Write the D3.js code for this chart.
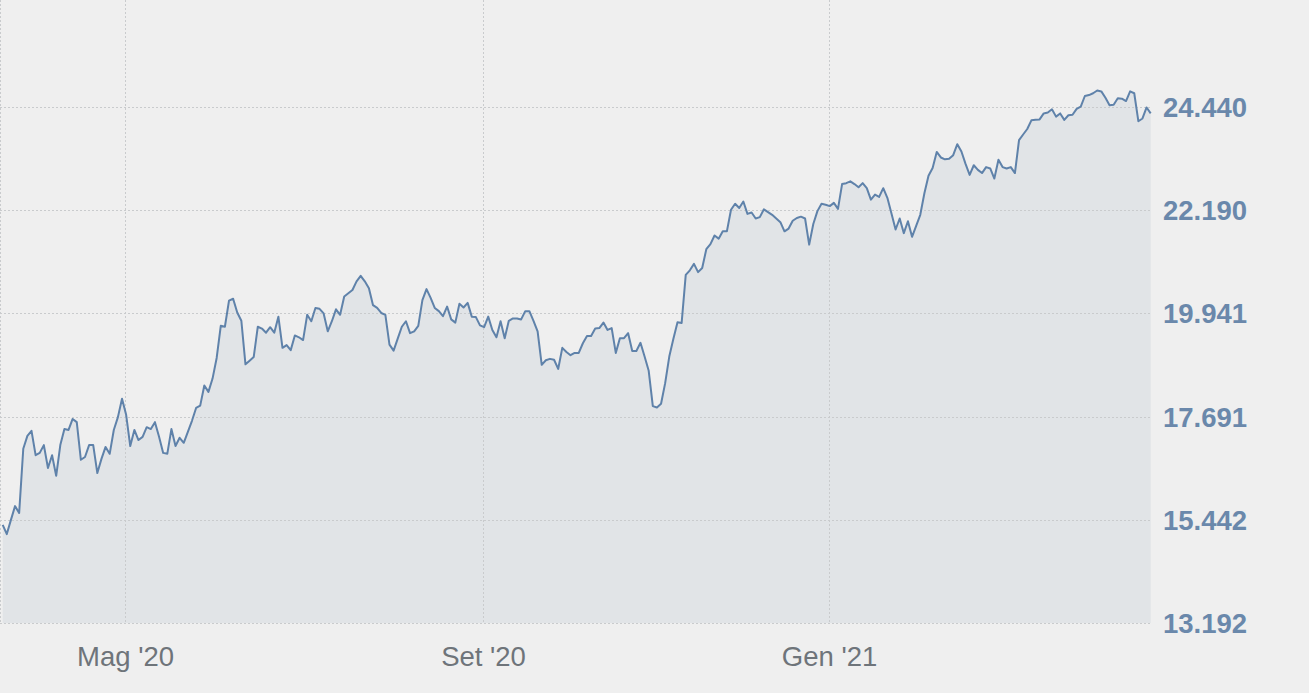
<!DOCTYPE html>
<html>
<head>
<meta charset="utf-8">
<script src="https://cdn.jsdelivr.net/npm/d3@7"></script>
<style>
  html, body { margin: 0; padding: 0; background: #efefef; }
  svg { display: block; }
</style>
</head>
<body>
<svg id="chart" width="1309" height="693"></svg>
<script>
// ---- Data (daily closing values, one per trading session) ----
const values = [
  15.33,15.13,15.44,15.74,15.59,16.99,17.27,17.38,16.85,16.90,
  17.07,16.57,16.85,16.40,17.07,17.42,17.40,17.64,17.57,16.75,
  16.81,17.07,17.07,16.46,16.77,17.03,16.88,17.40,17.68,18.08,
  17.73,17.05,17.40,17.18,17.25,17.46,17.42,17.57,17.25,16.90,
  16.88,17.42,17.05,17.23,17.12,17.36,17.60,17.88,17.93,18.37,
  18.23,18.52,18.97,19.67,19.65,20.22,20.26,19.96,19.78,18.83,
  18.91,18.99,19.65,19.61,19.52,19.64,19.52,19.87,19.19,19.25,
  19.14,19.46,19.42,19.36,19.91,19.77,20.06,20.04,19.94,19.55,
  19.77,20.03,19.91,20.31,20.38,20.45,20.64,20.76,20.64,20.49,
  20.12,20.06,19.95,19.91,19.26,19.13,19.39,19.65,19.77,19.51,
  19.55,19.67,20.23,20.47,20.28,20.06,19.99,19.88,20.09,19.81,
  19.74,20.15,20.07,20.17,19.87,19.86,19.68,19.64,19.87,19.58,
  19.42,19.77,19.40,19.78,19.83,19.83,19.81,19.99,19.99,19.78,
  19.55,18.82,18.92,18.95,18.93,18.73,19.19,19.10,19.03,19.08,
  19.08,19.29,19.45,19.45,19.61,19.62,19.74,19.58,19.62,19.08,
  19.40,19.40,19.51,19.12,19.12,19.30,19.00,18.69,17.92,17.89,
  17.97,18.42,19.00,19.39,19.75,19.73,20.78,20.88,21.02,20.84,
  20.93,21.34,21.45,21.64,21.57,21.73,21.73,22.20,22.33,22.24,
  22.38,22.11,22.14,22.01,22.04,22.21,22.15,22.09,22.01,21.93,
  21.73,21.79,21.96,22.02,22.05,22.01,21.44,21.89,22.17,22.33,
  22.31,22.28,22.35,22.22,22.76,22.78,22.82,22.76,22.69,22.78,
  22.67,22.42,22.53,22.48,22.67,22.46,22.12,21.77,22.01,21.69,
  21.95,21.61,21.85,22.09,22.56,22.94,23.11,23.46,23.34,23.30,
  23.31,23.39,23.63,23.47,23.20,22.96,23.17,23.07,23.00,23.13,
  23.10,22.88,23.29,23.13,23.10,23.13,23.00,23.72,23.84,23.96,
  24.15,24.16,24.17,24.30,24.32,24.39,24.23,24.30,24.16,24.26,
  24.27,24.40,24.45,24.68,24.70,24.74,24.80,24.78,24.64,24.48,
  24.49,24.63,24.62,24.57,24.78,24.74,24.13,24.19,24.43,24.30
];

// Month ticks: label and index of the first session of that month
const tickLabels = ["Mag '20", "Set '20", "Gen '21"];
const tickIndex  = [30, 117, 201];

// Y axis tick values and labels
const yTickValues = [13.192, 15.442, 17.691, 19.941, 22.190, 24.440];
const yTickLabels = ["13.192", "15.442", "17.691", "19.941", "22.190", "24.440"];

// ---- Layout ----
const W = 1309, H = 693;
const plot = { left: 0, right: 1150, top: 0, bottom: 623 };

const svg = d3.select("#chart");

const x = d3.scaleLinear()
  .domain([0, values.length - 1])
  .range([2.7, 1150.7]);

const y = d3.scaleLinear()
  .domain([yTickValues[0], yTickValues[yTickValues.length - 1]])
  .range([623, 107]);

// background
svg.append("rect").attr("width", W).attr("height", H).attr("fill", "#efefef");

// area
const area = d3.area()
  .x((d, i) => x(i))
  .y0(y(yTickValues[0]))
  .y1(d => y(d));

svg.append("path")
  .datum(values)
  .attr("d", area)
  .attr("fill", "#e1e4e7");

// grid
const grid = svg.append("g").attr("stroke", "#c9cbcd").attr("stroke-width", 1)
  .attr("stroke-dasharray", "2,2").attr("fill", "none");

grid.selectAll("line.h")
  .data(yTickValues)
  .join("line")
  .attr("class", "h")
  .attr("x1", plot.left).attr("x2", plot.right)
  .attr("y1", d => Math.round(y(d)) + 0.5)
  .attr("y2", d => Math.round(y(d)) + 0.5);

grid.selectAll("line.v")
  .data(tickIndex)
  .join("line")
  .attr("class", "v")
  .attr("x1", d => Math.round(x(d)) - 0.5)
  .attr("x2", d => Math.round(x(d)) - 0.5)
  .attr("y1", plot.top).attr("y2", plot.bottom);

// left border
grid.append("line")
  .attr("x1", 0.5).attr("x2", 0.5)
  .attr("y1", plot.top).attr("y2", plot.bottom);

// line
const line = d3.line()
  .x((d, i) => x(i))
  .y(d => y(d));

svg.append("path")
  .datum(values)
  .attr("d", line)
  .attr("fill", "none")
  .attr("stroke", "#5f82aa")
  .attr("stroke-width", 2)
  .attr("stroke-linejoin", "round");

// Y axis (right)
const yAxis = d3.axisRight(y)
  .tickValues(yTickValues)
  .tickFormat((d, i) => yTickLabels[i])
  .tickSize(0)
  .tickPadding(0);

const gy = svg.append("g")
  .attr("transform", "translate(1163,0)")
  .call(yAxis);
gy.select(".domain").remove();
gy.selectAll("text")
  .attr("x", 0)
  .attr("dy", 0)
  .attr("y", 9.5)
  .attr("text-anchor", "start")
  .attr("fill", "#6a88ab")
  .style("font-family", "'Liberation Sans', Arial, sans-serif")
  .style("font-weight", "bold")
  .style("font-size", "27.5px");

// X axis (bottom)
const xAxis = d3.axisBottom(x)
  .tickValues(tickIndex)
  .tickFormat((d, i) => tickLabels[i])
  .tickSize(0)
  .tickPadding(0);

const gx = svg.append("g")
  .attr("transform", "translate(0,623)")
  .call(xAxis);
gx.select(".domain").remove();
gx.selectAll(".tick").attr("transform", d => `translate(${Math.round(x(d)) - 0.5},0)`);
gx.selectAll("text")
  .attr("dy", 0)
  .attr("y", 43)
  .attr("fill", "#6e747a")
  .style("font-family", "'Liberation Sans', Arial, sans-serif")
  .style("font-size", "27.5px");
</script>
</body>
</html>
